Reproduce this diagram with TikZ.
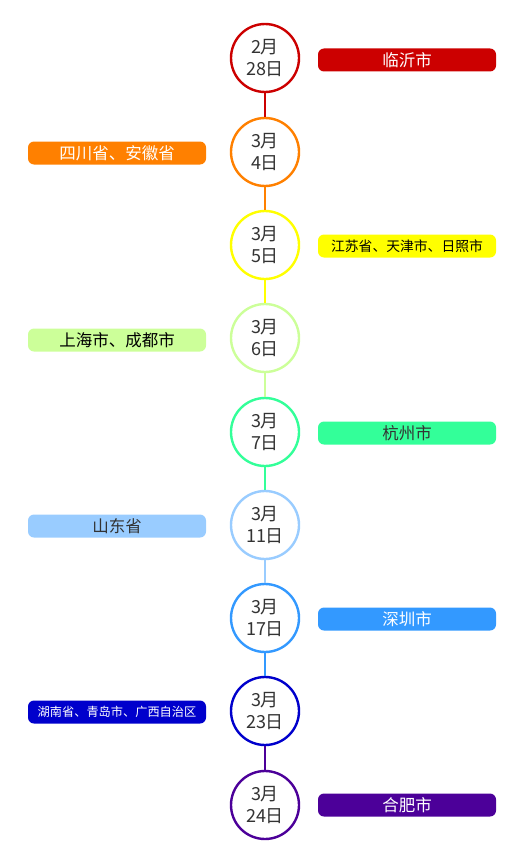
\documentclass[tikz,border=0pt]{standalone}
\usepackage{fontspec}
\setmainfont{Noto Sans CJK SC}
\definecolor{c1}{HTML}{CC0000}
\definecolor{c2}{HTML}{FF8000}
\definecolor{c3}{HTML}{FFFF00}
\definecolor{c4}{HTML}{CCFF99}
\definecolor{c5}{HTML}{33FF99}
\definecolor{c6}{HTML}{99CCFF}
\definecolor{c7}{HTML}{3399FF}
\definecolor{c8}{HTML}{0000CC}
\definecolor{c9}{HTML}{4C0099}
\definecolor{datetxt}{HTML}{333333}
\tikzset{
  datecircle/.style={circle, draw=#1, line width=2.4pt, fill=white, minimum size=68pt, inner sep=0pt, align=center, font=\fontsize{18}{22}\selectfont, text=datetxt},
  placebox/.style={rounded corners=6pt, fill=#1, minimum width=178pt, minimum height=23pt, inner sep=0pt, font=\fontsize{16.5}{19}\selectfont},
  link/.style={draw=#1, line width=1.6pt},
}
\begin{document}
\begin{tikzpicture}[x=1pt,y=-1pt]
\useasboundingbox (0,0) rectangle (524,864);
\foreach \i/\y/\d in {1/58/{2月\\28日},2/152/{3月\\4日},3/245/{3月\\5日},4/338/{3月\\6日},5/432/{3月\\7日},6/525/{3月\\11日},7/618/{3月\\17日},8/711/{3月\\23日},9/805/{3月\\24日}}{
  \node[datecircle=c\i] (d\i) at (265,\y) {\d};
}
% connectors
\draw[link=c1] (d1.south) -- (d2.north);
\draw[link=c2] (d2.south) -- (d3.north);
\draw[link=c3] (d3.south) -- (d4.north);
\draw[link=c4] (d4.south) -- (d5.north);
\draw[link=c5] (d5.south) -- (d6.north);
\draw[link=c6] (d6.south) -- (d7.north);
\draw[link=c7] (d7.south) -- (d8.north);
\draw[link=c9] (d8.south) -- (d9.north);
% place boxes
\node[placebox=c1, text=white] (p1) at (407,60) {临沂市};
\node[placebox=c2, text=white] (p2) at (117,153) {四川省、安徽省};
\node[placebox=c3, text=black, font=\fontsize{13.8}{16}\selectfont] (p3) at (407,246) {江苏省、天津市、日照市};
\node[placebox=c4, text=black] (p4) at (117,340) {上海市、成都市};
\node[placebox=c5, text=black!80] (p5) at (407,433) {杭州市};
\node[placebox=c6, text=black!80] (p6) at (117,526) {山东省};
\node[placebox=c7, text=white] (p7) at (407,619) {深圳市};
\node[placebox=c8, text=white, font=\fontsize{12.2}{14}\selectfont] (p8) at (117,712) {湖南省、青岛市、广西自治区};
\node[placebox=c9, text=white] (p9) at (407,805) {合肥市};
\end{tikzpicture}
\end{document}
